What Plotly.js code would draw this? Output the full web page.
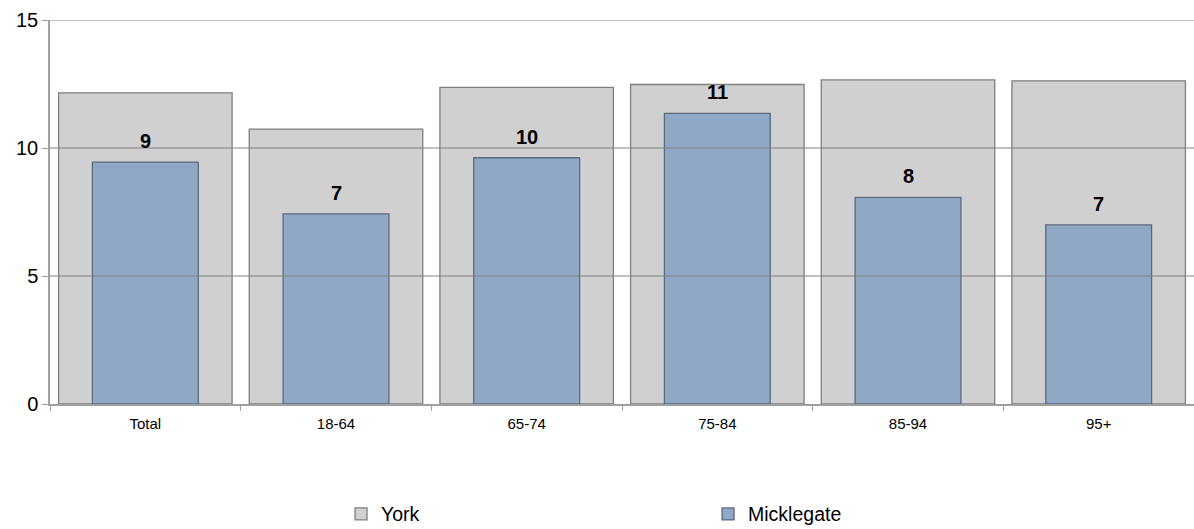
<!DOCTYPE html>
<html>
<head>
<meta charset="utf-8">
<script src="https://cdn.plot.ly/plotly-3.0.1.min.js"></script>
<style>
html,body{margin:0;padding:0;background:#fff;}
#chart{width:1194px;height:529px;}
</style>
</head>
<body>
<div id="chart"></div>
<script>
const categories = ["Total", "18-64", "65-74", "75-84", "85-94", "95+"];
const yorkValues = [12.15, 10.74, 12.37, 12.48, 12.66, 12.62];
const micklegateValues = [9.45, 7.43, 9.62, 11.35, 8.07, 7.0];
const yTicks = [0, 5, 10, 15];

const FONT = "Liberation Sans, Arial, sans-serif";

const york = {
  type: "bar",
  name: "York",
  x: categories,
  y: yorkValues,
  width: 0.91,
  marker: {color: "#d0d0d0", line: {color: "#7f7f7f", width: 1.3}},
  hoverinfo: "x+y+name"
};
const mick = {
  type: "bar",
  name: "Micklegate",
  x: categories,
  y: micklegateValues,
  width: 0.555,
  marker: {color: "#8ea8c6", line: {color: "#5c6a7c", width: 1.3}},
  hoverinfo: "x+y+name"
};

const annotations = categories.map((c, i) => ({
  x: c, y: micklegateValues[i], xref: "x", yref: "y",
  text: "<b>" + String(Math.round(micklegateValues[i])) + "</b>",
  showarrow: false, yanchor: "middle", yshift: 21,
  font: {family: FONT, size: 20, color: "#000"}
}));

const shapes = yTicks.filter(v => v > 0).map(v => ({
  type: "line", xref: "paper", yref: "y", x0: 0, x1: 1, y0: v, y1: v,
  line: {color: "#808080", width: 1}, layer: "above"
}));

const layout = {
  width: 1194, height: 529,
  margin: {l: 50, r: 0, t: 20, b: 125, autoexpand: false},
  paper_bgcolor: "#fff", plot_bgcolor: "#fff",
  barmode: "overlay",
  font: {family: FONT, color: "#000"},
  showlegend: true,
  legend: {
    orientation: "h", x: 0.2544, xanchor: "left", y: -0.287, yanchor: "middle",
    font: {family: FONT, size: 19.5, color: "#000"},
    entrywidth: 322, itemwidth: 30, traceorder: "normal"
  },
  xaxis: {
    type: "category",
    showgrid: false,
    showline: true, linecolor: "#a0a0a0", linewidth: 1.5,
    ticks: "outside", ticklen: 5, tickcolor: "#a0a0a0", tickson: "boundaries",
    tickfont: {family: FONT, size: 15, color: "#000"},
    ticklabelstandoff: 5,
    range: [-0.5, 5.5], fixedrange: true
  },
  yaxis: {
    range: [0, 15], tickvals: yTicks, ticktext: yTicks.map(String),
    showgrid: false, zeroline: false,
    showline: true, linecolor: "#a0a0a0", linewidth: 1.5,
    ticks: "outside", ticklen: 6, tickcolor: "#a0a0a0",
    tickfont: {family: FONT, size: 20, color: "#000"},
    fixedrange: true
  },
  annotations: annotations,
  shapes: shapes
};

Plotly.newPlot("chart", [york, mick], layout, {displayModeBar: false});
</script>
</body>
</html>
